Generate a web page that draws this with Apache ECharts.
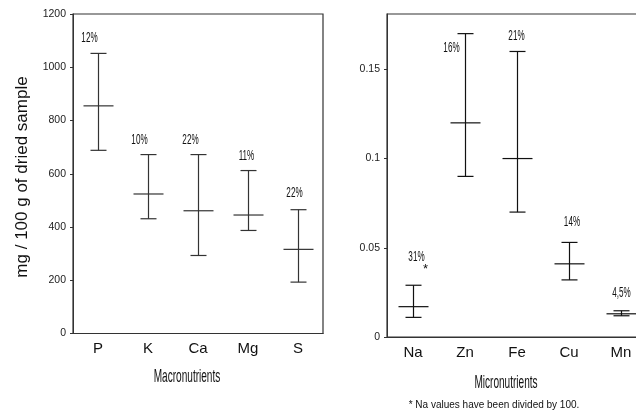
<!DOCTYPE html>
<html>
<head>
<meta charset="utf-8">
<script src="https://cdn.jsdelivr.net/npm/echarts@6/dist/echarts.min.js"></script>
<style>
html,body{margin:0;padding:0;background:#fff;}
#chart{width:636px;height:410px;}
</style>
</head>
<body>
<div id="chart"></div>
<script>
// ---- data ----
const macroCats = ['P', 'K', 'Ca', 'Mg', 'S'];
const macroMean = [855, 524, 461, 445, 316];
const macroLow  = [688, 431, 293, 387, 193];
const macroHigh = [1052, 672, 672, 612, 465];
const macroCV   = ['12%', '10%', '22%', '11%', '22%'];
const macroTickMax = 1200;
const macroTickStep = 200;

const microCats = ['Na', 'Zn', 'Fe', 'Cu', 'Mn'];
const microMean = [0.017, 0.120, 0.100, 0.041, 0.013];
const microLow  = [0.011, 0.090, 0.070, 0.032, 0.0119];
const microHigh = [0.029, 0.170, 0.160, 0.053, 0.0147];
const microCV   = ['31%', '16%', '21%', '14%', '4,5%'];
const microNote = ['*', '', '', '', ''];
const microTickStep = 0.05;

// ---- layout / style (not data) ----
const FONT = "'Liberation Sans', Arial, sans-serif";
const macroLabelShift = [[-9, -15], [-9, -15], [-8, -15], [-2, -15], [-4, -17]];
const microLabelShift = [[3, -28], [-14, 14], [-1, -15], [2.5, -20], [0, -18]];
const noteShift = [12, -16];

function rows(low, mean, high) {
  return mean.map((m, i) => [i, low[i], m, high[i]]);
}

function makeRender(cvs, notes, shifts, color) {
  return function (params, api) {
    const i = api.value(0);
    const lo = api.coord([i, api.value(1)]);
    const me = api.coord([i, api.value(2)]);
    const hi = api.coord([i, api.value(3)]);
    const x = Math.round(hi[0]) + 0.5;
    const st = { stroke: color, lineWidth: 1.2 };
    const capW = 8, meanW = 15;
    const children = [
      { type: 'line', shape: { x1: x, y1: hi[1], x2: x, y2: lo[1] }, style: st },
      { type: 'line', shape: { x1: x - capW, y1: hi[1], x2: x + capW, y2: hi[1] }, style: st },
      { type: 'line', shape: { x1: x - capW, y1: lo[1], x2: x + capW, y2: lo[1] }, style: st },
      { type: 'line', shape: { x1: x - meanW, y1: me[1], x2: x + meanW, y2: me[1] }, style: st },
      {
        type: 'text', x: x + shifts[i][0], y: hi[1] + shifts[i][1], scaleX: 0.56,
        style: { text: cvs[i], font: '14.5px ' + FONT, fill: '#111', align: 'center', verticalAlign: 'middle' }
      }
    ];
    if (notes && notes[i]) {
      children.push({
        type: 'text', x: x + noteShift[0], y: hi[1] + noteShift[1],
        style: { text: notes[i], font: '13px ' + FONT, fill: '#111', align: 'center', verticalAlign: 'middle' }
      });
    }
    return { type: 'group', children: children };
  };
}

const chart = echarts.init(document.getElementById('chart'), null, { renderer: 'canvas' });

const axisLine = { show: true, lineStyle: { color: '#333', width: 1 } };
const catLabel = { color: '#111', fontFamily: FONT, fontSize: 15, margin: 8 };
const valLabel = { color: '#222', fontFamily: FONT, fontSize: 10.5, margin: 7 };

chart.setOption({
  animation: false,
  backgroundColor: '#fff',
  grid: [
    { left: 73, width: 250, top: 14, bottom: 76.5, outerBoundsMode: 'none', containLabel: false,
      show: true, borderColor: '#333', borderWidth: 1.2, backgroundColor: 'transparent' },
    { left: 387, width: 260, top: 14, bottom: 73, outerBoundsMode: 'none', containLabel: false,
      show: true, borderColor: '#333', borderWidth: 1.2, backgroundColor: 'transparent' }
  ],
  xAxis: [
    { type: 'category', gridIndex: 0, data: macroCats, axisLine: axisLine, axisTick: { show: false }, axisLabel: catLabel, splitLine: { show: false } },
    { type: 'category', gridIndex: 1, data: microCats, axisLine: axisLine, axisTick: { show: false }, axisLabel: catLabel, splitLine: { show: false } }
  ],
  yAxis: [
    { type: 'value', gridIndex: 0, min: 0, max: macroTickMax, interval: macroTickStep,
      axisLine: axisLine, axisTick: { show: true, length: 3, lineStyle: { color: '#333' } },
      axisLabel: Object.assign({}, valLabel, { formatter: v => String(v) }), splitLine: { show: false } },
    { type: 'value', gridIndex: 1, min: 0, max: 0.181, interval: microTickStep,
      axisLine: axisLine, axisTick: { show: true, length: 3, lineStyle: { color: '#333' } },
      axisLabel: Object.assign({}, valLabel, { showMaxLabel: false, formatter: v => String(+v.toFixed(3)) }), splitLine: { show: false } }
  ],
  series: [
    { type: 'custom', xAxisIndex: 0, yAxisIndex: 0, clip: false,
      encode: { x: 0, y: [1, 2, 3] },
      data: rows(macroLow, macroMean, macroHigh),
      renderItem: makeRender(macroCV, null, macroLabelShift, '#333') },
    { type: 'custom', xAxisIndex: 1, yAxisIndex: 1, clip: false,
      encode: { x: 0, y: [1, 2, 3] },
      data: rows(microLow, microMean, microHigh),
      renderItem: makeRender(microCV, microNote, microLabelShift, '#111') }
  ],
  graphic: [
    { type: 'text', x: 22, y: 177, rotation: Math.PI / 2,
      style: { text: 'mg / 100 g of dried sample', font: '17px ' + FONT, fill: '#111', align: 'center', verticalAlign: 'middle' } },
    { type: 'text', x: 187, y: 377, scaleX: 0.53,
      style: { text: 'Macronutrients', font: '19px ' + FONT, fill: '#111', align: 'center', verticalAlign: 'middle' } },
    { type: 'text', x: 506, y: 383, scaleX: 0.53,
      style: { text: 'Micronutrients', font: '19px ' + FONT, fill: '#111', align: 'center', verticalAlign: 'middle' } },
    { type: 'text', x: 494, y: 405,
      style: { text: '* Na values have been divided by 100.', font: '10px ' + FONT, fill: '#111', align: 'center', verticalAlign: 'middle' } }
  ]
});
</script>
</body>
</html>
